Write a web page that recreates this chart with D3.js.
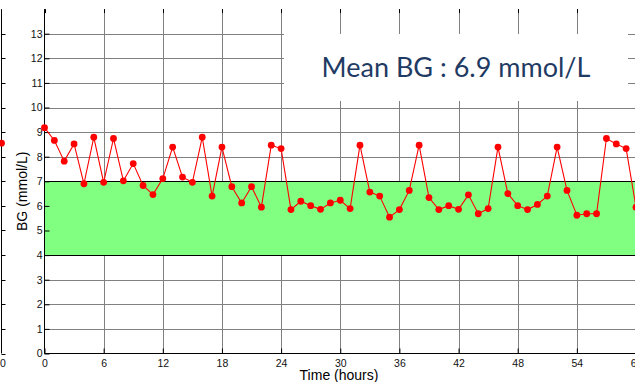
<!DOCTYPE html>
<html>
<head>
<meta charset="utf-8">
<script src="https://cdn.jsdelivr.net/npm/d3@7"></script>
<style>
  html, body { margin: 0; padding: 0; background: #fff; }
  svg { display: block; }
</style>
</head>
<body>
<svg id="chart" width="635" height="382"></svg>
<script>
// Hourly blood glucose readings (mmol/L), hours 0..60
const hours = d3.range(0, 61);
const bgValues = [
  9.18, 8.66, 7.82, 8.52, 6.90, 8.79, 6.96, 8.74, 7.02, 7.72,
  6.83, 6.46, 7.11, 8.39, 7.17, 6.96, 8.79, 6.40, 8.39, 6.78,
  6.12, 6.78, 5.95, 8.47, 8.33, 5.85, 6.19, 6.01, 5.86, 6.12,
  6.23, 5.89, 8.47, 6.56, 6.40, 5.54, 5.85, 6.63, 8.47, 6.34,
  5.85, 6.01, 5.86, 6.45, 5.68, 5.89, 8.39, 6.50, 6.01, 5.85,
  6.06, 6.40, 8.39, 6.63, 5.62, 5.68, 5.68, 8.74, 8.52, 8.33,
  5.95
];
const targetRange = [4, 7];
const xTicks = [0, 6, 12, 18, 24, 30, 36, 42, 48, 54, 60];
const yTicks = [0, 1, 2, 3, 4, 5, 6, 7, 8, 9, 10, 11, 12, 13];
const meanLabel = "Mean BG : 6.9 mmol/L";
const xTitle = "Time (hours)";
const yTitle = "BG (mmol/L)";

// neighbouring panel, only its right edge is in view
const sideValue = 8.55;

const svg = d3.select("#chart");
const x = d3.scaleLinear().domain([0, 60]).range([44.5, 636]);
const y = d3.scaleLinear().domain([0, 14]).range([353.5, 9.1]);
const yTop = y(14), yBottom = y(0);

const tickFont = "'Liberation Sans', Arial, Helvetica, sans-serif";

// grid
const grid = svg.append("g").attr("stroke", "#808080").attr("stroke-width", 1);
grid.selectAll("line.v").data(xTicks.filter(d => d > 0)).join("line")
  .attr("class", "v")
  .attr("x1", d => Math.round(x(d)) + 0.5).attr("x2", d => Math.round(x(d)) + 0.5)
  .attr("y1", yTop).attr("y2", yBottom);
grid.selectAll("line.h").data(yTicks.filter(d => d > 0)).join("line")
  .attr("class", "h")
  .attr("x1", x(0)).attr("x2", 636)
  .attr("y1", d => Math.round(y(d)) + 0.5).attr("y2", d => Math.round(y(d)) + 0.5);

// target band
svg.append("rect")
  .attr("x", x(0)).attr("width", x(60) - x(0))
  .attr("y", Math.round(y(targetRange[1])) + 0.5)
  .attr("height", Math.round(y(targetRange[0])) - Math.round(y(targetRange[1])))
  .attr("fill", "#80ff80").attr("stroke", "#000").attr("stroke-width", 1);

// annotation box hiding the grid behind the mean label
svg.append("rect")
  .attr("x", 284).attr("y", 34).attr("width", 344).attr("height", 67)
  .attr("fill", "#fff");

// axes
const xAxis = d3.axisBottom(x).tickValues(xTicks).tickSize(-5).tickPadding(6)
  .tickFormat(d3.format("d"));
const yAxis = d3.axisLeft(y).tickValues(yTicks).tickSize(-5).tickPadding(2)
  .tickFormat(d3.format("d"));

const gx = svg.append("g").attr("transform", `translate(0,${yBottom})`).call(xAxis);
const gy = svg.append("g").attr("transform", `translate(${x(0)},0)`).call(yAxis);
[gx, gy].forEach(g => {
  g.select(".domain").attr("stroke", "#000");
  g.selectAll(".tick line").attr("stroke", "#000");
  g.selectAll(".tick text").attr("font-family", tickFont).attr("font-size", 10.5).attr("fill", "#111");
});
gy.select(".domain").attr("d", `M0,${yTop}V${yBottom}`);
gx.select(".domain").attr("d", `M${x(0)},0H636`);

// ticks along the top edge
svg.append("g").selectAll("line").data(xTicks).join("line")
  .attr("x1", d => Math.round(x(d)) + 0.5).attr("x2", d => Math.round(x(d)) + 0.5)
  .attr("y1", yTop).attr("y2", yTop + 4).attr("stroke", "#000");

// partial neighbouring panel on the left edge
const side = svg.append("g");
side.append("line").attr("x1", 1.5).attr("x2", 1.5).attr("y1", yTop).attr("y2", yBottom).attr("stroke", "#000");
side.selectAll("line.t").data(yTicks).join("line").attr("class", "t")
  .attr("x1", 1.5).attr("x2", 5.5)
  .attr("y1", d => Math.round(y(d)) + 0.5).attr("y2", d => Math.round(y(d)) + 0.5)
  .attr("stroke", "#000");
side.append("text").attr("x", 0).attr("y", yBottom + 13.5).attr("text-anchor", "start")
  .attr("font-family", tickFont).attr("font-size", 10.5).attr("fill", "#111").text("0");
side.append("circle").attr("cx", 1.5).attr("cy", y(sideValue)).attr("r", 3.4).attr("fill", "#ff0000");

// series
const pts = hours.map((h, i) => [h, bgValues[i]]);
svg.append("path").datum(pts)
  .attr("fill", "none").attr("stroke", "#ff0000").attr("stroke-width", 1.1)
  .attr("d", d3.line().x(d => x(d[0])).y(d => y(d[1])));
svg.append("g").selectAll("circle").data(pts).join("circle")
  .attr("cx", d => x(d[0])).attr("cy", d => y(d[1])).attr("r", 3.4).attr("fill", "#ff0000");

// titles
svg.append("text").attr("x", 339).attr("y", 379.5).attr("text-anchor", "middle")
  .attr("font-family", tickFont).attr("font-size", 14).attr("fill", "#000").text(xTitle);
svg.append("text").attr("transform", `translate(27,${(yTop + yBottom) / 2 + 10}) rotate(-90)`)
  .attr("text-anchor", "middle")
  .attr("font-family", tickFont).attr("font-size", 14).attr("fill", "#000").text(yTitle);

svg.append("text").attr("x", 456).attr("y", 77).attr("text-anchor", "middle")
  .attr("font-family", "Lato, 'Open Sans', sans-serif").attr("font-size", 27)
  .attr("fill", "#1f3b64").text(meanLabel);
</script>
</body>
</html>
